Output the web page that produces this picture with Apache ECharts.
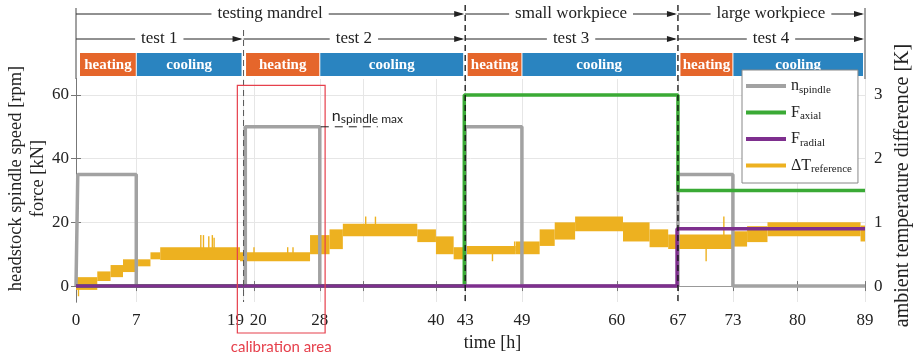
<!DOCTYPE html>
<html><head><meta charset="utf-8">
<script src="https://cdn.jsdelivr.net/npm/echarts@6/dist/echarts.min.js"></script>
<style>html,body{margin:0;padding:0;background:#fff}#c{width:914px;height:357px}</style>
</head><body><div id="c"></div>
<script>
// ---- data (time axis in hours, as positioned on the drawn axis) ----
const xTickValues = [0, 6.8, 18.9, 20.1, 27.5, 32.4, 40.6, 43.9, 50.3, 61.0, 67.9, 74.1, 81.4, 89];
const xTickLabels = ['0','7','19','20','28','','40','43','49','60','67','73','80','89'];
const leftTicks = [0, 20, 40, 60];
const rightTicks = [0, 1, 2, 3];

const nSpindleTimes  = [0, 0.2, 6.8, 19.1, 27.5, 43.9, 50.3, 67.9, 74.1, 89];
const nSpindleValues = [0, 35,  0,   50,   0,    50,   0,    35,   0,    0];
const fAxialTimes  = [0, 43.8, 67.9, 89];
const fAxialValues = [0, 60,   30,   30];
const fRadialTimes  = [0, 67.8, 89];
const fRadialValues = [0, 18,   18];

// ΔT reference: noisy quantised band, [start, end, low, high] in K
const dTBands = [
  [0, 2.4, -0.06, 0.14], [2.4, 3.9, 0.08, 0.23], [3.9, 5.3, 0.14, 0.33],
  [5.3, 7.0, 0.22, 0.42], [7.0, 8.4, 0.31, 0.42], [8.4, 9.5, 0.42, 0.53],
  [9.5, 18.5, 0.41, 0.61], [18.5, 26.4, 0.39, 0.53], [26.4, 28.6, 0.50, 0.80],
  [28.6, 30.1, 0.58, 0.89], [30.1, 38.5, 0.78, 0.98], [38.5, 40.6, 0.69, 0.89],
  [40.6, 42.6, 0.50, 0.78], [42.6, 43.9, 0.42, 0.61], [43.9, 49.6, 0.50, 0.63],
  [49.6, 52.3, 0.50, 0.70], [52.3, 54.0, 0.63, 0.89], [54.0, 56.3, 0.73, 1.00],
  [56.3, 61.7, 0.86, 1.09], [61.7, 64.7, 0.70, 1.00], [64.7, 66.8, 0.61, 0.89],
  [66.8, 74.1, 0.58, 0.81], [74.1, 75.7, 0.62, 0.86], [75.7, 78.0, 0.69, 0.94],
  [78.0, 88.5, 0.78, 1.00], [88.5, 89, 0.70, 0.95]
];
// single-sample spikes: [time, low, high] in K
const dTSpikes = [
  [0.2, -0.16, 0.05], [14.0, 0.55, 0.80], [14.3, 0.55, 0.80], [14.9, 0.55, 0.78],
  [15.3, 0.55, 0.80], [15.5, 0.55, 0.76], [20.0, 0.45, 0.61], [23.8, 0.45, 0.61],
  [24.4, 0.45, 0.61], [32.6, 0.90, 1.09], [33.7, 0.90, 1.09], [46.9, 0.39, 0.55],
  [49.4, 0.55, 0.70], [71.0, 0.39, 0.60], [73.0, 0.70, 1.09]
];

const groupLabels = ['testing mandrel', 'small workpiece', 'large workpiece'];
const groupBounds = [0, 43.9, 67.9, 89];
const testLabels = ['test 1', 'test 2', 'test 3', 'test 4'];
const testBounds = [0, 18.9, 43.9, 67.9, 89];
const heatingEnds = [6.8, 27.5, 50.3, 74.1];
const phaseLabels = ['heating', 'cooling'];
const calibrationRange = [18.2, 28.1];
const nSpindleMax = 50;

// ---- chart ----
const SERIF = 'Liberation Serif';
const SANS = 'Lato';
const COLORS = { n: '#A2A2A2', ax: '#3AAA35', rad: '#7E2F8E', dt: '#EDB120', heat: '#E5662B', cool: '#2A84C0', red: '#E6404C' };
const zip = (a, b) => a.map((t, i) => [t, b[i]]);

const chart = echarts.init(document.getElementById('c'), null, { renderer: 'canvas' });

const axisGray = '#777';
const option = {
  animation: false,
  grid: { left: 76, right: 49, top: 79, bottom: 55, containLabel: false, outerBoundsMode: 'none' },
  legend: {
    orient: 'vertical', left: 742, top: 70, icon: 'rect', itemWidth: 40, itemHeight: 4, itemGap: 9,
    backgroundColor: '#fff', borderColor: '#888', borderWidth: 1, padding: [8, 6, 8, 4], z: 20,
    data: ['n_spindle', 'F_axial', 'F_radial', 'ΔT_reference'],
    formatter: name => { const p = name.split('_'); return '{m|' + p[0] + '}{s|' + p[1] + '}'; },
    textStyle: {
      color: '#222', fontFamily: SERIF, fontSize: 16,
      rich: { m: { fontFamily: SERIF, fontSize: 16, color: '#222' }, s: { fontFamily: SERIF, fontSize: 11, color: '#222', padding: [8, 0, 0, 0] } }
    }
  },
  xAxis: [{
    type: 'value', min: 0, max: 89, position: 'bottom',
    axisLine: { show: true, lineStyle: { color: axisGray } },
    axisTick: { show: true, inside: true, length: 5, customValues: xTickValues, lineStyle: { color: axisGray } },
    axisLabel: {
      customValues: xTickValues, margin: 10, color: '#222', fontFamily: SERIF, fontSize: 17,
      formatter: v => {
        const l = xTickLabels[xTickValues.indexOf(v)] || '';
        if (l === '19') return '{a|19}';
        if (l === '20') return '{b|20}';
        return l;
      },
      rich: { a: { fontFamily: SERIF, fontSize: 17, color: '#222', padding: [0, 16, 0, 0] }, b: { fontFamily: SERIF, fontSize: 17, color: '#222', padding: [0, 0, 0, 8] } }
    },
    splitLine: { show: true, lineStyle: { color: '#E6E6E6' } },
    name: 'time [h]', nameLocation: 'middle', nameGap: 30,
    nameTextStyle: { fontFamily: SERIF, fontSize: 18, color: '#222', padding: [0, 0, 0, 44] }
  }, {
    type: 'value', min: 0, max: 89, position: 'top',
    axisLine: { show: true, lineStyle: { color: '#999' } },
    axisTick: { show: true, inside: true, length: 5, customValues: xTickValues, lineStyle: { color: axisGray } },
    axisLabel: { show: false }, splitLine: { show: false }
  }],
  yAxis: [{
    type: 'value', min: -5, max: 65,
    axisLine: { show: true, lineStyle: { color: axisGray } },
    axisTick: { show: true, inside: true, length: 5, customValues: leftTicks, lineStyle: { color: axisGray } },
    axisLabel: { customValues: leftTicks, margin: 7, color: '#222', fontFamily: SERIF, fontSize: 17 },
    splitLine: { show: true, lineStyle: { color: '#E6E6E6' } },
    name: 'headstock spindle speed [rpm]\nforce [kN]', nameLocation: 'middle', nameGap: 27, nameRotate: 90,
    nameMoveOverlap: false,
    nameTextStyle: { fontFamily: SERIF, fontSize: 18.5, color: '#222', lineHeight: 22, padding: [0, 0, 0, 24] }
  }, {
    type: 'value', min: -0.25, max: 3.25, position: 'right',
    axisLine: { show: true, lineStyle: { color: axisGray } },
    axisTick: { show: true, inside: true, length: 5, customValues: rightTicks, lineStyle: { color: axisGray } },
    axisLabel: { customValues: rightTicks, margin: 9, color: '#222', fontFamily: SERIF, fontSize: 17 },
    splitLine: { show: false },
    name: 'ambient temperature difference [K]', nameLocation: 'middle', nameGap: 28, nameRotate: 90,
    nameMoveOverlap: false,
    nameTextStyle: { fontFamily: SERIF, fontSize: 20, color: '#222', padding: [0, 0, 0, 10] }
  }],
  series: [
    {
      name: 'ΔT_reference', type: 'custom', xAxisIndex: 0, yAxisIndex: 1, z: 2, clip: true,
      itemStyle: { color: COLORS.dt },
      encode: { x: [0, 1], y: [2, 3] },
      data: dTBands.concat(dTSpikes.map(s => [s[0], s[0], s[1], s[2]])),
      renderItem: (params, api) => {
        const p0 = api.coord([api.value(0), api.value(3)]);
        const p1 = api.coord([api.value(1), api.value(2)]);
        const w = Math.max(p1[0] - p0[0], 1.4);
        return { type: 'rect', shape: { x: p0[0], y: p0[1], width: w, height: p1[1] - p0[1] }, style: { fill: COLORS.dt } };
      }
    },
    {
      name: 'n_spindle', type: 'line', step: 'end', z: 3, symbol: 'none',
      data: zip(nSpindleTimes, nSpindleValues),
      itemStyle: { color: COLORS.n }, lineStyle: { color: COLORS.n, width: 3.5 }
    },
    {
      name: 'F_axial', type: 'line', step: 'end', z: 4, symbol: 'none',
      data: zip(fAxialTimes, fAxialValues),
      itemStyle: { color: COLORS.ax }, lineStyle: { color: COLORS.ax, width: 3.5 }
    },
    {
      name: 'F_radial', type: 'line', step: 'end', z: 5, symbol: 'none',
      data: zip(fRadialTimes, fRadialValues),
      itemStyle: { color: COLORS.rad }, lineStyle: { color: COLORS.rad, width: 3.5 }
    }
  ]
};
chart.setOption(option);

// ---- annotations placed through the axes' own scales ----
function buildGraphics() {
  const px = t => chart.convertToPixel({ xAxisIndex: 0 }, t);
  const py = v => chart.convertToPixel({ yAxisIndex: 0 }, v);
  const top = py(65), bottom = py(-5);
  const els = [];
  const line = (x1, y1, x2, y2, stroke, dash, z, w) => els.push({
    type: 'line', z: z || 50, silent: true,
    shape: { x1, y1, x2, y2 }, style: { stroke, lineWidth: w || 1, lineDash: dash || null }
  });
  const arrow = (x0, x1, y, label) => {
    line(x0, y, x1 - 2, y, '#222', null, 30);
    els.push({ type: 'polygon', z: 31, silent: true, shape: { points: [[x1 - 10, y - 3], [x1, y], [x1 - 10, y + 3]] }, style: { fill: '#222' } });
    els.push({ type: 'text', z: 32, silent: true, x: (x0 + x1) / 2, y: y,
      style: { text: label, align: 'center', verticalAlign: 'middle', fontFamily: SERIF, fontSize: 17, fill: '#222', backgroundColor: '#fff', padding: [0, 6] } });
  };
  // outer boundaries
  line(px(groupBounds[0]), 8, px(groupBounds[0]), top, '#444', null, 40);
  line(px(groupBounds[3]), 8, px(groupBounds[3]), top, '#444', null, 40);
  // group rows
  for (let i = 0; i < groupLabels.length; i++) arrow(px(groupBounds[i]), px(groupBounds[i + 1]) - 1, 14, groupLabels[i]);
  for (let i = 0; i < testLabels.length; i++) arrow(px(testBounds[i]), px(testBounds[i + 1]) - 1, 39, testLabels[i]);
  // dividers
  for (let i = 1; i < testBounds.length - 1; i++) {
    const t = testBounds[i];
    const isGroup = groupBounds.indexOf(t) > 0;
    const x = px(t);
    line(x, isGroup ? 5 : 30, x, bottom, isGroup ? '#111' : '#555', [6, 4], 60, isGroup ? 1.3 : 1);
  }
  // heating / cooling bars
  for (let i = 0; i < testLabels.length; i++) {
    const a = px(testBounds[i]) + (i === 0 ? 4 : 2.5);
    const m = px(heatingEnds[i]);
    const b = px(testBounds[i + 1]) - 2;
    const segs = [[a, m - 0.5, COLORS.heat, phaseLabels[0]], [m + 0.5, b, COLORS.cool, phaseLabels[1]]];
    segs.forEach(s => {
      els.push({ type: 'rect', z: 5, silent: true, shape: { x: s[0], y: 53, width: s[1] - s[0], height: 23 }, style: { fill: s[2] } });
      els.push({ type: 'text', z: 6, silent: true, x: (s[0] + s[1]) / 2, y: 65,
        style: { text: s[3], align: 'center', verticalAlign: 'middle', fontFamily: SERIF, fontWeight: 'bold', fontSize: 15, fill: '#fff' } });
    });
  }
  // calibration area
  const cx0 = px(calibrationRange[0]), cx1 = px(calibrationRange[1]);
  els.push({ type: 'rect', z: 70, silent: true, shape: { x: cx0, y: py(63), width: cx1 - cx0, height: bottom + 31 - py(63) },
    style: { fill: null, stroke: COLORS.red, lineWidth: 1.2 } });
  els.push({ type: 'text', z: 70, silent: true, x: (cx0 + cx1) / 2, y: 347,
    style: { text: 'calibration area', align: 'center', verticalAlign: 'middle', fontFamily: SANS, fontSize: 15, fill: COLORS.red } });
  // n spindle max annotation
  const xe = px(heatingEnds[1]);
  line(xe + 1, py(nSpindleMax), xe + 58, py(nSpindleMax), '#222', [8, 6], 70, 1);
  els.push({ type: 'text', z: 70, silent: true, x: xe + 12, y: py(nSpindleMax) - 11,
    style: { text: '{m|n}{s|spindle max}', align: 'left', verticalAlign: 'middle',
      rich: { m: { fontFamily: SANS, fontSize: 16, fill: '#222', color: '#222' }, s: { fontFamily: SANS, fontSize: 12, color: '#222', fill: '#222', padding: [7, 0, 0, 0] } } } });
  chart.setOption({ graphic: { elements: els } });
}
buildGraphics();
</script>
</body></html>
